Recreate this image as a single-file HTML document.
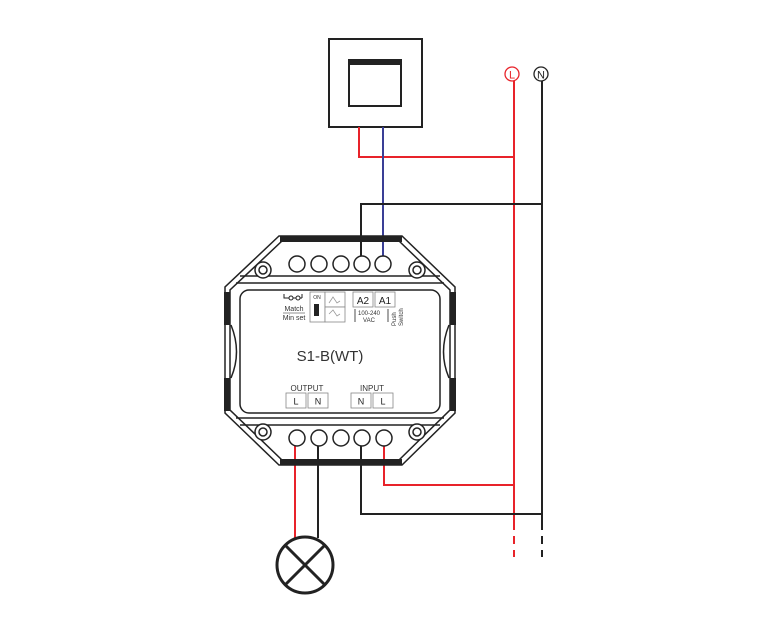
<!DOCTYPE html>
<html><head><style>body{margin:0;background:#fff}svg{display:block}text{font-family:"Liberation Sans",sans-serif}</style></head><body>
<svg width="780" height="636" viewBox="0 0 780 636" xmlns="http://www.w3.org/2000/svg">
<!-- wall switch -->
<rect x="329" y="39" width="93" height="88" fill="#fff" stroke="#222" stroke-width="2"/>
<rect x="349" y="60" width="52" height="46" fill="#fff" stroke="#222" stroke-width="2"/>
<rect x="349" y="60" width="52" height="5" fill="#222"/>
<!-- L N -->
<circle cx="512" cy="74" r="7" fill="#fff" stroke="#e8232a" stroke-width="1.3"/>
<text x="512" y="78.5" font-size="11" fill="#e8232a" text-anchor="middle">L</text>
<circle cx="541" cy="74" r="7" fill="#fff" stroke="#222" stroke-width="1.3"/>
<text x="541" y="78.5" font-size="11" fill="#222" text-anchor="middle">N</text>
<!-- wires -->
<g fill="none" stroke-width="2">
<polyline points="359,127 359,157 514,157" stroke="#e8232a"/>
<line x1="514" y1="81" x2="514" y2="522" stroke="#e8232a"/>
<line x1="514" y1="522" x2="514" y2="557" stroke="#e8232a" stroke-dasharray="8,6"/>
<line x1="542" y1="81" x2="542" y2="522" stroke="#222"/>
<line x1="542" y1="522" x2="542" y2="557" stroke="#222" stroke-dasharray="8,6"/>
<line x1="383" y1="127" x2="383" y2="256" stroke="#3a3f96"/>
<polyline points="542,204 361,204 361,256" stroke="#222"/>
<polyline points="295,446 295,538" stroke="#e8232a"/>
<polyline points="318,446 318,538" stroke="#222"/>
<polyline points="361,446 361,514 542,514" stroke="#222"/>
<polyline points="384,446 384,485 514,485" stroke="#e8232a"/>
</g>
<!-- lamp -->
<circle cx="305" cy="565" r="28" fill="#fff" stroke="#222" stroke-width="3"/>
<line x1="285" y1="545" x2="325" y2="585" stroke="#222" stroke-width="3"/>
<line x1="325" y1="545" x2="285" y2="585" stroke="#222" stroke-width="3"/>
<!-- housing -->
<g fill="none" stroke="#222" stroke-width="1.5">
<polygon points="279,236 402,236 455,287 455,413 402,465 279,465 225,413 225,287"/>
<polygon points="282,241 399,241 450,290 450,410 399,460 282,460 230,410 230,290"/>
<line x1="240" y1="276" x2="440" y2="276"/>
<line x1="236" y1="283" x2="444" y2="283"/>
<line x1="240" y1="425" x2="440" y2="425"/>
<line x1="236" y1="418" x2="444" y2="418"/>
<rect x="240" y="290" width="200" height="123" rx="9"/>
<path d="M231,325 Q242,352 231,378"/><path d="M449,325 Q438,352 449,378"/>
</g>
<rect x="280" y="236" width="122" height="6" fill="#222"/>
<rect x="280" y="459" width="122" height="6" fill="#222"/>
<rect x="224" y="292" width="6" height="33" fill="#222"/><rect x="224" y="378" width="6" height="33" fill="#222"/>
<rect x="450" y="292" width="6" height="33" fill="#222"/><rect x="450" y="378" width="6" height="33" fill="#222"/>
<g fill="#fff" stroke="#222" stroke-width="1.5">
<circle cx="263" cy="270" r="8"/><circle cx="263" cy="270" r="4"/>
<circle cx="417" cy="270" r="8"/><circle cx="417" cy="270" r="4"/>
<circle cx="263" cy="432" r="8"/><circle cx="263" cy="432" r="4"/>
<circle cx="417" cy="432" r="8"/><circle cx="417" cy="432" r="4"/>
<circle cx="297" cy="264" r="8"/><circle cx="319" cy="264" r="8"/><circle cx="341" cy="264" r="8"/><circle cx="362" cy="264" r="8"/><circle cx="383" cy="264" r="8"/>
<circle cx="297" cy="438" r="8"/><circle cx="319" cy="438" r="8"/><circle cx="341" cy="438" r="8"/><circle cx="362" cy="438" r="8"/><circle cx="384" cy="438" r="8"/>
</g>
<!-- labels -->
<g stroke="#888" stroke-width="0.8" fill="#fff">
<rect x="310" y="292" width="15" height="30"/><rect x="325" y="292" width="20" height="15"/><rect x="325" y="307" width="20" height="15"/>
<rect x="353" y="292" width="20" height="15"/><rect x="375" y="292" width="20" height="15"/>
<rect x="286" y="393" width="20" height="15"/><rect x="308" y="393" width="20" height="15"/>
<rect x="351" y="393" width="20" height="15"/><rect x="373" y="393" width="20" height="15"/>
</g>
<rect x="314" y="304" width="5" height="12" fill="#222"/>
<path d="M284,294 v4 h4 M288,298 h14 M302,298 v-4" fill="none" stroke="#222"/>
<circle cx="291" cy="298" r="2" fill="#fff" stroke="#222"/><circle cx="298" cy="298" r="2" fill="#fff" stroke="#222"/>
<line x1="283" y1="313" x2="305" y2="313" stroke="#222" stroke-width="0.6"/>
<text x="294" y="311" font-size="7" fill="#333" text-anchor="middle">Match</text>
<text x="294" y="320" font-size="7" fill="#333" text-anchor="middle">Min set</text>
<text x="317" y="299" font-size="5" fill="#333" text-anchor="middle">ON</text>
<path d="M329,303 l4,-6 l4,6 l3,-2" fill="none" stroke="#999" stroke-width="0.8"/>
<path d="M329,314 l4,-4 l4,6 l3,-2" fill="none" stroke="#999" stroke-width="0.8"/>
<text x="363" y="304" font-size="10" fill="#222" text-anchor="middle">A2</text>
<text x="385" y="304" font-size="10" fill="#222" text-anchor="middle">A1</text>
<line x1="355" y1="309" x2="355" y2="322" stroke="#222" stroke-width="0.8"/>
<line x1="388" y1="309" x2="388" y2="322" stroke="#222" stroke-width="0.8"/>
<text x="369" y="315" font-size="6" fill="#333" text-anchor="middle">100-240</text>
<text x="369" y="322" font-size="6" fill="#333" text-anchor="middle">VAC</text>
<text transform="translate(396,326) rotate(-90)" font-size="6" fill="#333">Push</text>
<text transform="translate(403,326) rotate(-90)" font-size="6" fill="#333">Switch</text>
<text x="330" y="361" font-size="15" fill="#333" text-anchor="middle">S1-B(WT)</text>
<text x="307" y="391" font-size="8" fill="#333" text-anchor="middle">OUTPUT</text>
<text x="372" y="391" font-size="8" fill="#333" text-anchor="middle">INPUT</text>
<text x="296" y="404.5" font-size="9" fill="#222" text-anchor="middle">L</text>
<text x="318" y="404.5" font-size="9" fill="#222" text-anchor="middle">N</text>
<text x="361" y="404.5" font-size="9" fill="#222" text-anchor="middle">N</text>
<text x="383" y="404.5" font-size="9" fill="#222" text-anchor="middle">L</text>
</svg>
</body></html>
